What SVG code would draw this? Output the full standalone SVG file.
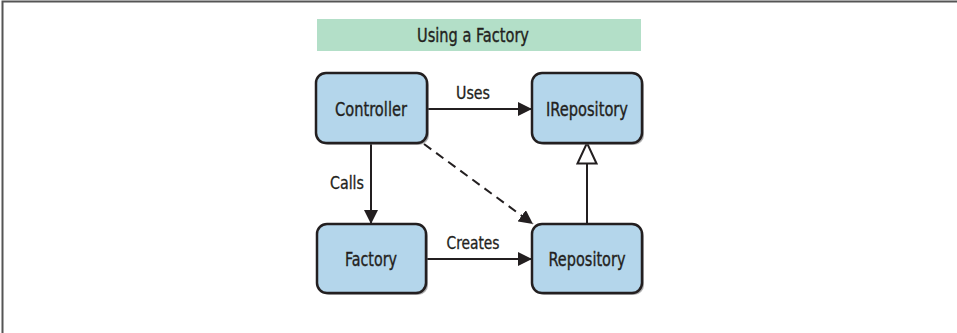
<svg xmlns="http://www.w3.org/2000/svg" width="957" height="333" viewBox="0 0 957 333">
<style>
.box{fill:#b4d6eb;stroke:#231f20;stroke-width:2.5}
.shadow{fill:#6d6e70;opacity:0.55}
.lbl{font-family:"Liberation Sans Narrow","DejaVu Sans Condensed","Liberation Sans",sans-serif;font-size:20px;fill:#231f20;stroke:#231f20;stroke-width:0.35;text-anchor:middle}
.elbl{font-family:"Liberation Sans Narrow","DejaVu Sans Condensed","Liberation Sans",sans-serif;font-size:17px;fill:#231f20;stroke:#231f20;stroke-width:0.3;text-anchor:middle}
.line{stroke:#231f20;stroke-width:2;fill:none}
</style>
<defs>
<marker id="arr" viewBox="0 0 14 14" refX="14" refY="7" markerWidth="14" markerHeight="14" markerUnits="userSpaceOnUse" orient="auto">
<path d="M0,0 L14,7 L0,14 Z" fill="#231f20"/>
</marker>
<marker id="tri" viewBox="0 0 24 22" refX="22" refY="11" markerWidth="24" markerHeight="22" markerUnits="userSpaceOnUse" orient="auto">
<path d="M1.5,1.5 L22,11 L1.5,20.5 Z" fill="#fff" stroke="#231f20" stroke-width="2"/>
</marker>
</defs>
<rect width="957" height="333" fill="#fff"/>
<path d="M2.5,333 V1.5 H957" fill="none" stroke="#555" stroke-width="2"/>
<g id="title">
<rect x="317" y="19" width="324" height="32" fill="#b3dfc8"/>
<text class="lbl" x="473" y="42" style="font-size:19px" textLength="112" lengthAdjust="spacingAndGlyphs">Using a Factory</text>
</g>
<g id="connectors">
<line class="line" x1="427" y1="109" x2="532" y2="109" marker-end="url(#arr)"/>
<line class="line" x1="371" y1="143" x2="371" y2="224" marker-end="url(#arr)"/>
<line class="line" x1="426" y1="259" x2="532" y2="259" marker-end="url(#arr)"/>
<line class="line" x1="424" y1="144" x2="533" y2="224" stroke-dasharray="9,6" marker-end="url(#arr)"/>
<line class="line" x1="587" y1="224" x2="587" y2="143" marker-end="url(#tri)"/>
<text class="elbl" x="473" y="99" textLength="34" lengthAdjust="spacingAndGlyphs">Uses</text>
<text class="elbl" x="347" y="189" textLength="34" lengthAdjust="spacingAndGlyphs">Calls</text>
<text class="elbl" x="473" y="249" textLength="53" lengthAdjust="spacingAndGlyphs">Creates</text>
</g>
<g id="controller">
<rect class="shadow" x="318" y="75" width="111" height="70" rx="10"/>
<rect class="box" x="316" y="73" width="111" height="70" rx="10"/>
<text class="lbl" x="371" y="116" textLength="72" lengthAdjust="spacingAndGlyphs">Controller</text>
</g>
<g id="irepository">
<rect class="shadow" x="534" y="75" width="110" height="70" rx="10"/>
<rect class="box" x="532" y="73" width="110" height="70" rx="10"/>
<text class="lbl" x="587" y="116" textLength="82" lengthAdjust="spacingAndGlyphs">IRepository</text>
</g>
<g id="factory">
<rect class="shadow" x="319" y="226" width="109" height="69" rx="10"/>
<rect class="box" x="317" y="224" width="109" height="69" rx="10"/>
<text class="lbl" x="371" y="266" textLength="52" lengthAdjust="spacingAndGlyphs">Factory</text>
</g>
<g id="repository">
<rect class="shadow" x="534" y="226" width="110" height="69" rx="10"/>
<rect class="box" x="532" y="224" width="110" height="69" rx="10"/>
<text class="lbl" x="587" y="266" textLength="77" lengthAdjust="spacingAndGlyphs">Repository</text>
</g>
</svg>
